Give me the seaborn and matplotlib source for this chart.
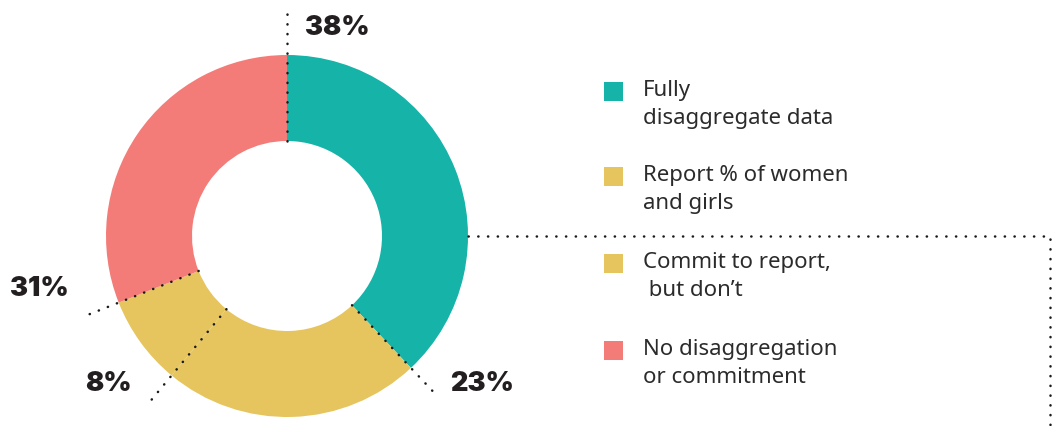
import numpy as np
import matplotlib.pyplot as plt
import seaborn as sns

# data
categories = ["Fully\ndisaggregate data", "Report % of women\nand girls",
              "Commit to report,\n but don\u2019t", "No disaggregation\nor commitment"]
shares = [38, 23, 8, 31]
pct_labels = ["38%", "23%", "8%", "31%"]
colors = ["#16b3a9", "#e6c55e", "#e6c55e", "#f47c78"]

sns.set_theme(style="white")
plt.rcParams['font.family'] = ['Inter', 'DejaVu Sans']

W, H = 1054, 426
fig = plt.figure(figsize=(W / 100, H / 100), dpi=100)
ax = fig.add_axes([0, 0, 1, 1])
ax.set_xlim(0, W)
ax.set_ylim(0, H)
ax.set_aspect("equal")
ax.axis("off")

cx, cy = 287, H - 236
r_out, r_in = 181, 95

ax.pie(shares, colors=colors, startangle=90, counterclock=False,
       center=(cx, cy), radius=r_out,
       wedgeprops=dict(width=r_out - r_in, linewidth=0))
ax.set_xlim(0, W)
ax.set_ylim(0, H)

dot = dict(color="#1a1a1a", linewidth=1.8, linestyle=(0, (0.1, 3.8)),
           dash_capstyle="round")

# leader lines along wedge boundaries
bounds = 90 - np.cumsum([0] + shares[:-1]) * 3.6
ends = [225, 216, 216, 216]
for ang, r_end in zip(bounds, ends):
    a = np.deg2rad(ang)
    ax.plot([cx + r_in * np.cos(a), cx + r_end * np.cos(a)],
            [cy + r_in * np.sin(a), cy + r_end * np.sin(a)], **dot)

# bracket line
ax.plot([cx + r_out, 1050, 1050], [cy, cy, 0], **dot)

# percentage labels
lab_pos = [(305, H - 28, "left"), (450, H - 384, "left"),
           (85, H - 384, "left"), (10, H - 289, "left")]
for txt, (x, y, ha) in zip(pct_labels, lab_pos):
    ax.text(x, y, txt, ha=ha, va="center", fontsize=19.5, fontweight="black",
            color="#231f20")

# legend
leg_y = [H - 92, H - 177, H - 264, H - 351]
for lab, col, y in zip(categories, colors, leg_y):
    ax.add_patch(plt.Rectangle((604, y - 9), 19, 19, color=col, lw=0))
    ax.text(643, y + 12, lab, ha="left", va="top", fontsize=16,
            color="#2b2b2b", linespacing=1.45,
            family=["Noto Sans", "DejaVu Sans"])

fig.savefig("out.png", dpi=100)
